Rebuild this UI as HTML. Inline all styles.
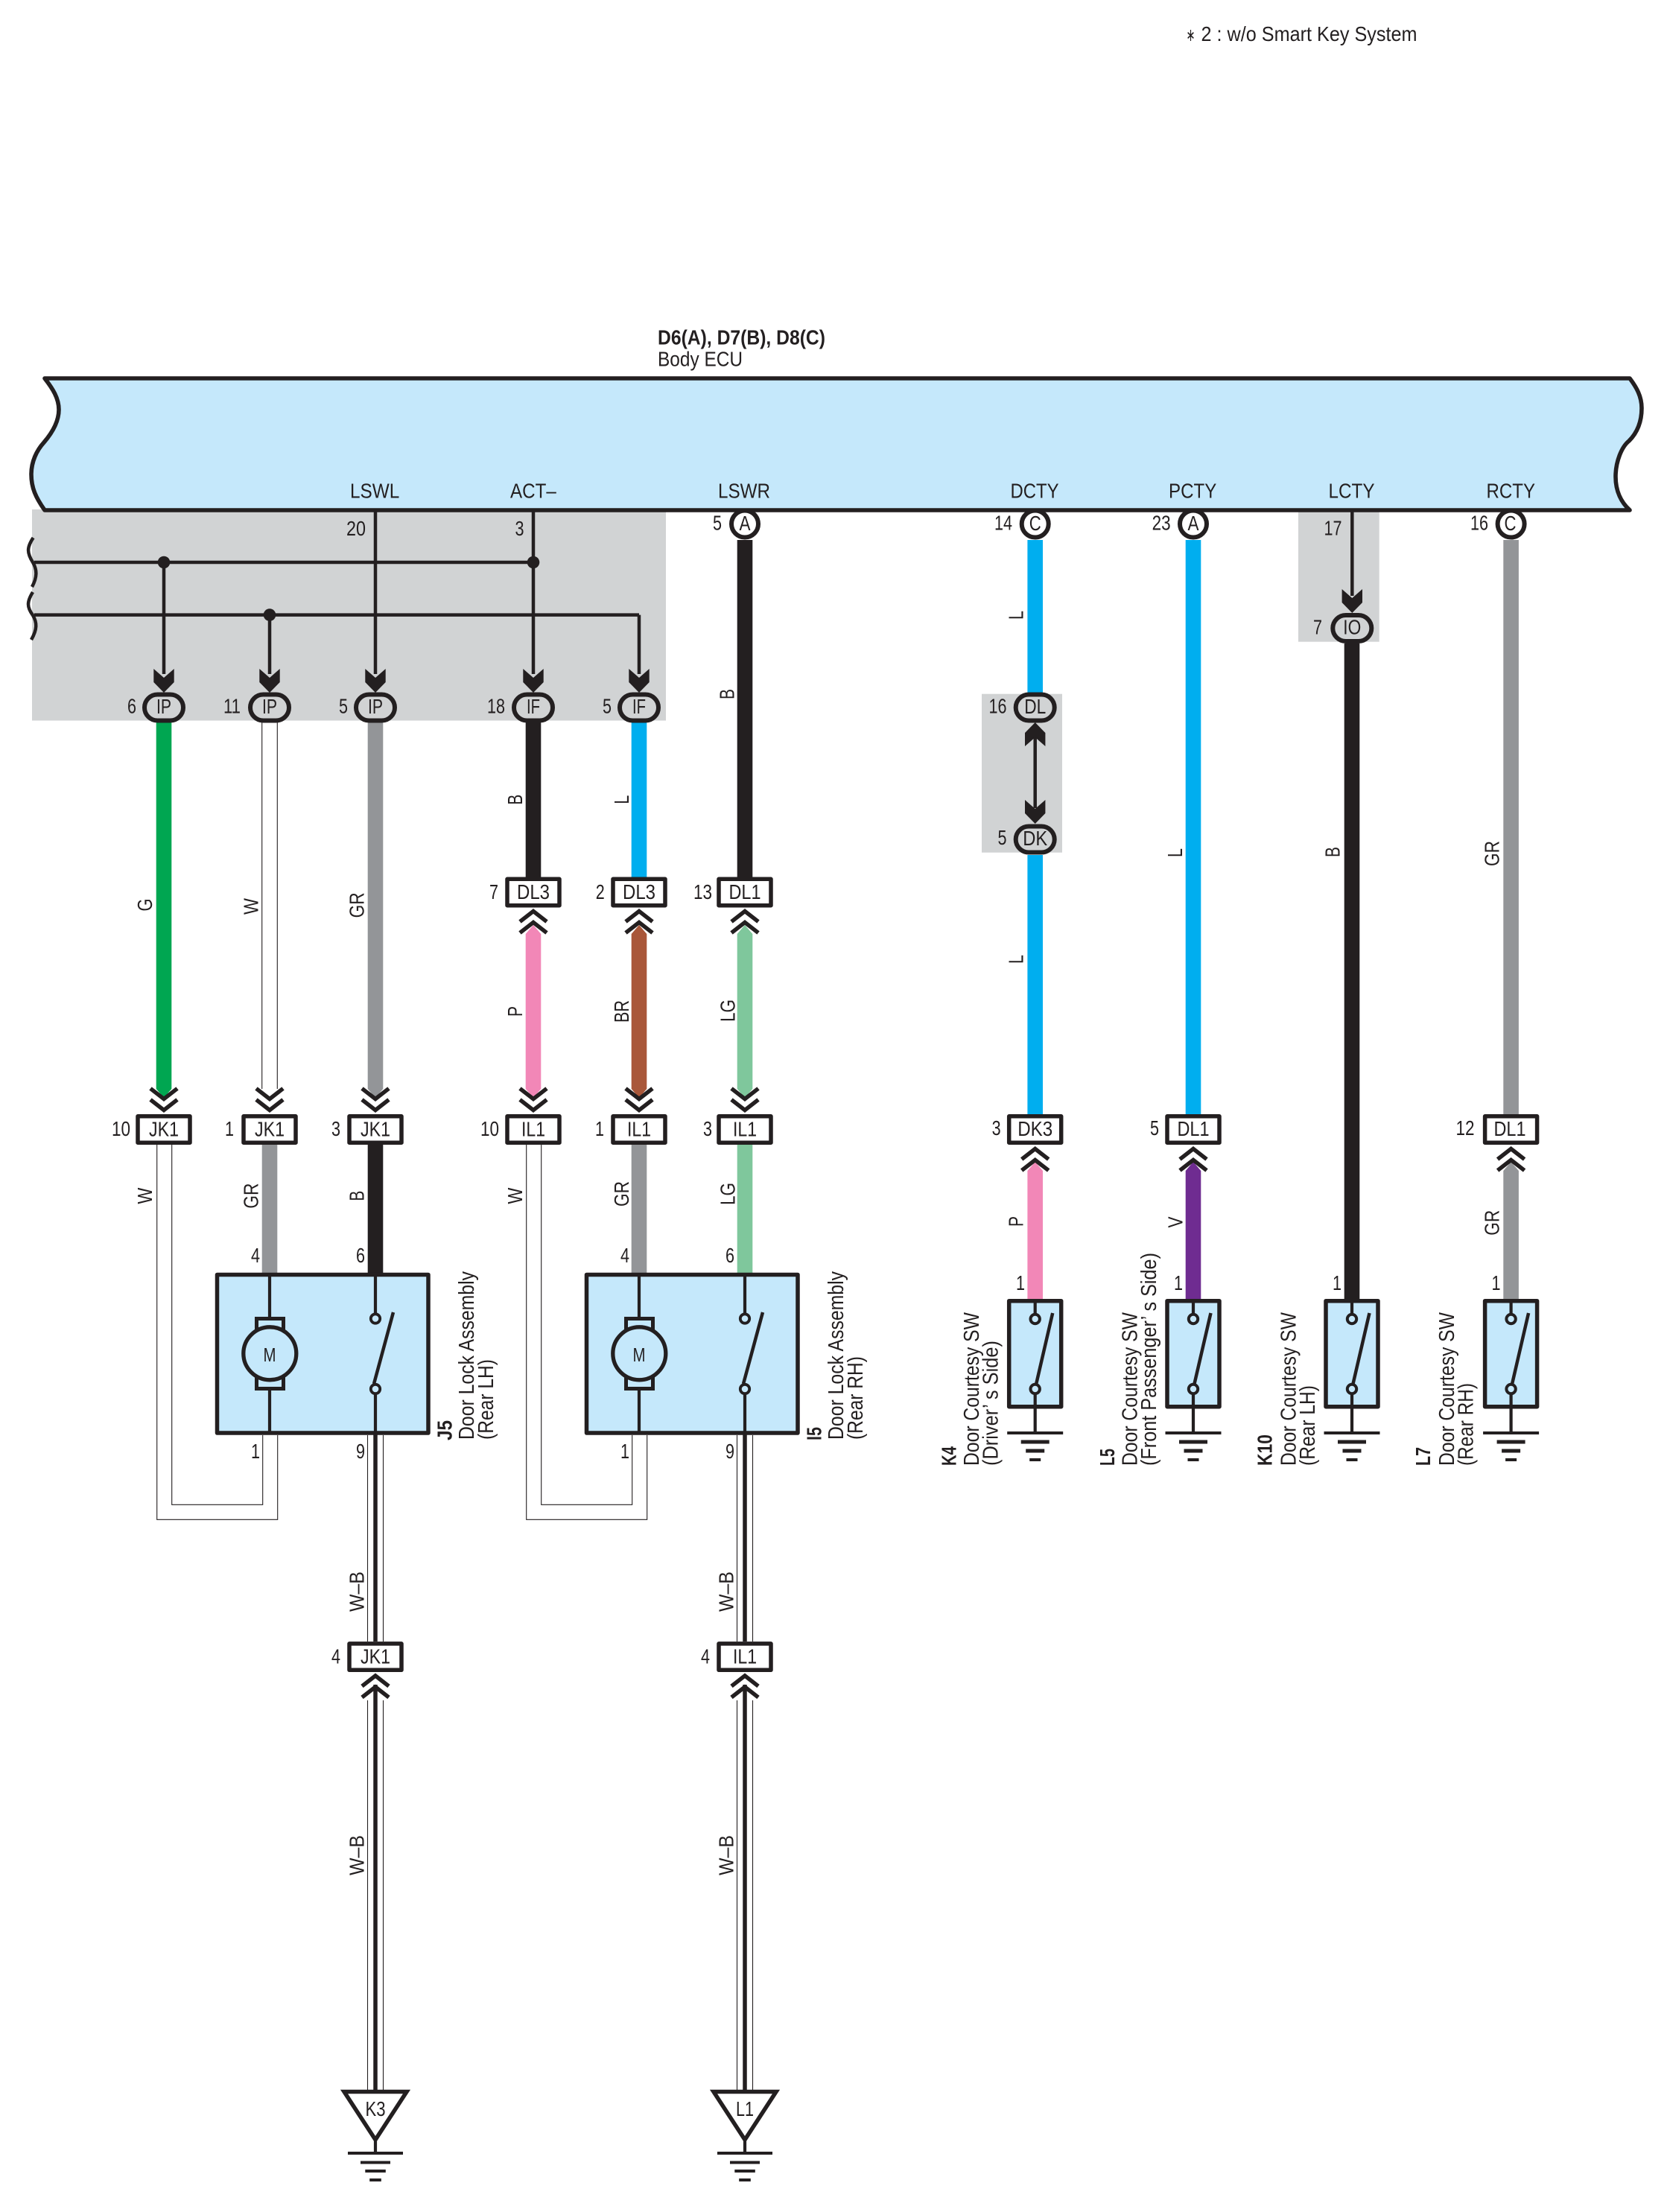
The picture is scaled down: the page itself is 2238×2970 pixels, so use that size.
<!DOCTYPE html>
<html lang="en">
<head>
<meta charset="utf-8">
<title>Door Lock Wiring Diagram</title>
<style>
html,body{margin:0;padding:0;background:#fff}
svg{display:block}
text{font-family:"Liberation Sans",Arial,sans-serif;font-size:27.5px;fill:#231f20}
.b{font-weight:bold;font-size:28px}
.m{text-anchor:middle}
.e{text-anchor:end}
.lbl{font-size:29px}
</style>
</head>
<body>
<svg xmlns="http://www.w3.org/2000/svg" width="2238" height="2970" viewBox="0 0 2238 2970">
<defs>
  <g id="cu"><path d="M-18,14L0,0L18,14M-18,29L0,15L18,29" fill="none" stroke="#231f20" stroke-width="5.5"/></g>
  <g id="cd"><path d="M-18,-14L0,0L18,-14M-18,-29L0,-15L18,-29" fill="none" stroke="#231f20" stroke-width="5.5"/></g>
  <rect id="bx" x="-35" y="-17.7" width="70" height="35.4" fill="#fff" stroke="#231f20" stroke-width="5.5" stroke-linejoin="round"/>
  <rect id="pl" x="-26" y="-17.5" width="52" height="35" rx="17.5" ry="17.5" fill="#d1d3d4" stroke="#231f20" stroke-width="6"/>
  <circle id="ci" r="18" fill="#fff" stroke="#231f20" stroke-width="6"/>
  <polygon id="ar" points="0,0 -13.7,-14 -13.7,-32 0,-20 13.7,-32 13.7,-14" fill="#231f20"/>
  <g id="as">
    <rect x="291.5" y="1711.5" width="283.5" height="212.5" fill="#c5e8fb" stroke="#231f20" stroke-width="5.5" stroke-linejoin="round"/>
    <path d="M362,1711V1770M362,1866V1924M504,1711V1764M504,1871V1924" stroke="#231f20" stroke-width="4.2" fill="none"/>
    <rect x="344.5" y="1770.5" width="36" height="17" fill="#c5e8fb" stroke="#231f20" stroke-width="5"/>
    <rect x="344.5" y="1847.5" width="36" height="17" fill="#c5e8fb" stroke="#231f20" stroke-width="5"/>
    <circle cx="362.3" cy="1817.3" r="35.5" fill="#c5e8fb" stroke="#231f20" stroke-width="5.3"/>
    <path d="M502,1858L528,1762" stroke="#231f20" stroke-width="4.5" fill="none"/>
    <circle cx="504" cy="1770.5" r="6.2" fill="#c5e8fb" stroke="#231f20" stroke-width="3.8"/>
    <circle cx="504" cy="1865" r="6.2" fill="#c5e8fb" stroke="#231f20" stroke-width="3.8"/>
    <path d="M210.7,1537V2040.3H372.7V1927M230.7,1537V2020.3H352.7V1927" fill="none" stroke="#231f20" stroke-width="1.1"/>
    <path d="M493.5,1927V2204M514.5,1927V2204" fill="none" stroke="#231f20" stroke-width="1.1"/>
    <path d="M504,1924V2204" fill="none" stroke="#231f20" stroke-width="5.5"/>
  </g>
  <g id="sw">
    <rect x="-35" y="1746.7" width="70" height="142" fill="#c5e8fb" stroke="#231f20" stroke-width="5.5" stroke-linejoin="round"/>
    <path d="M0,1746V1764M0,1872V1924" stroke="#231f20" stroke-width="4.2" fill="none"/>
    <path d="M1.5,1858L23.5,1763" stroke="#231f20" stroke-width="4.5" fill="none"/>
    <circle cx="0" cy="1771" r="6.2" fill="#c5e8fb" stroke="#231f20" stroke-width="4"/>
    <circle cx="0" cy="1865" r="6.2" fill="#c5e8fb" stroke="#231f20" stroke-width="4"/>
    <rect x="-37.5" y="1922" width="75" height="4" fill="#231f20"/>
    <rect x="-19" y="1933.5" width="38" height="5" fill="#231f20"/>
    <rect x="-12.5" y="1945.5" width="25" height="5" fill="#231f20"/>
    <rect x="-7.5" y="1958" width="15" height="4" fill="#231f20"/>
  </g>
  <g id="gd">
    <path d="M-42,2808.5H42L0,2873Z" fill="#fff" stroke="#231f20" stroke-width="5.5" stroke-linejoin="miter"/>
    <path d="M0,2875V2891" stroke="#231f20" stroke-width="4.2"/>
    <rect x="-37" y="2889" width="74" height="4" fill="#231f20"/>
    <rect x="-20" y="2901.5" width="40" height="4" fill="#231f20"/>
    <rect x="-13.7" y="2913" width="27.5" height="4" fill="#231f20"/>
    <rect x="-7.8" y="2925" width="15.6" height="4" fill="#231f20"/>
  </g>
  <g id="wb">
    <path d="M-10.5,2283V2806M10.5,2283V2806" stroke="#231f20" stroke-width="1.1" fill="none"/>
    <path d="M0,2262V2806" stroke="#231f20" stroke-width="5.5" fill="none"/>
  </g>
</defs>

<rect width="2238" height="2970" fill="#fff"/>

<!-- shaded areas -->
<rect x="43" y="684" width="851" height="283.5" fill="#d1d3d4"/>
<rect x="1318" y="931.7" width="108" height="213" fill="#d1d3d4"/>
<rect x="1743" y="684" width="108.7" height="177.7" fill="#d1d3d4"/>

<!-- circles under the ECU edge -->
<use href="#ci" x="1000" y="703.5"/>
<use href="#ci" x="1389.7" y="703.5"/>
<use href="#ci" x="1602" y="703.5"/>
<use href="#ci" x="2028.6" y="703.5"/>

<!-- ECU -->
<path d="M60,508L2188,508C2197,520 2204,532 2204,548C2204,570 2195,584 2187,592C2177,600 2169,620 2169,640C2169,660 2177,675 2188,685L60,685C48,668 42,655 42,637C42,620 49,605 59,594C71,580 79,565 79,550C79,535 71,522 60,508Z" fill="#c5e8fb" stroke="#231f20" stroke-width="5.6" stroke-linejoin="round"/>

<!-- thin lines inside shaded area -->
<g fill="none" stroke="#231f20" stroke-width="4.5">
  <path d="M46,755H716M46,825.6H858"/>
  <path d="M220,755V905M362,825.6V905M504,687V905M716,687V905M858,825.6V905"/>
  <path d="M1815.3,687V800"/>
  <path d="M1389.7,990V1085"/>
  <path d="M44.6,722C36,735 36,742 44,755C50,765 50,775 43,788"/>
  <path d="M44,795C36,808 36,815 44,826C50,836 50,845 42,859"/>
</g>
<circle cx="220" cy="755" r="8.3" fill="#231f20"/>
<circle cx="716" cy="755" r="8.3" fill="#231f20"/>
<circle cx="362" cy="825.6" r="8.3" fill="#231f20"/>

<!-- upper solid wires -->
<path d="M209.7,968V1462L220,1474L230.3,1462V968Z" fill="#00a651"/>
<path d="M351.7,968V1462M372.3,968V1462" stroke="#231f20" stroke-width="1.1" fill="none"/>
<path d="M493.7,968V1462L504,1474L514.3,1462V968Z" fill="#939598"/>
<rect x="705.7" y="968" width="20.6" height="210" fill="#231f20"/>
<rect x="847.7" y="968" width="20.6" height="210" fill="#00aeef"/>
<rect x="989.7" y="725" width="20.6" height="453" fill="#231f20"/>
<path d="M705.7,1254L716,1242L726.3,1254V1462L716,1474L705.7,1462Z" fill="#f287b7"/>
<path d="M847.7,1254L858,1242L868.3,1254V1462L858,1474L847.7,1462Z" fill="#a9573a"/>
<path d="M989.7,1254L1000,1242L1010.3,1254V1462L1000,1474L989.7,1462Z" fill="#7fc79c"/>

<!-- lower solid wires -->
<rect x="351.7" y="1537" width="20.6" height="172" fill="#939598"/>
<rect x="493.7" y="1537" width="20.6" height="172" fill="#231f20"/>
<rect x="847.7" y="1537" width="20.6" height="172" fill="#939598"/>
<rect x="989.7" y="1537" width="20.6" height="172" fill="#7fc79c"/>

<!-- assemblies -->
<use href="#as"/>
<use href="#as" x="496"/>

<!-- right side wires -->
<rect x="1379.4" y="725" width="20.6" height="206" fill="#00aeef"/>
<rect x="1379.4" y="1148" width="20.6" height="348" fill="#00aeef"/>
<rect x="1591.7" y="725" width="20.6" height="771" fill="#00aeef"/>
<rect x="1804.7" y="864" width="20.6" height="880" fill="#231f20"/>
<rect x="2018.3" y="725" width="20.6" height="771" fill="#939598"/>
<path d="M1379.4,1572L1389.7,1560L1400,1572V1744H1379.4Z" fill="#f287b7"/>
<path d="M1591.7,1572L1602,1560L1612.3,1572V1744H1591.7Z" fill="#6f2c91"/>
<path d="M2018.3,1572L2028.6,1560L2038.9,1572V1744H2018.3Z" fill="#939598"/>

<!-- switches -->
<use href="#sw" x="1389.7"/>
<use href="#sw" x="1602"/>
<use href="#sw" x="1815"/>
<use href="#sw" x="2028.6"/>

<!-- W-B to ground -->
<use href="#wb" x="504"/>
<use href="#wb" x="1000"/>
<use href="#gd" x="504"/>
<use href="#gd" x="1000"/>

<!-- solid arrows -->
<use href="#ar" x="220" y="930"/>
<use href="#ar" x="362" y="930"/>
<use href="#ar" x="504" y="930"/>
<use href="#ar" x="716" y="930"/>
<use href="#ar" x="858" y="930"/>
<use href="#ar" x="1815.3" y="823"/>
<use href="#ar" x="1389.7" y="1106"/>
<use href="#ar" transform="translate(1389.7,970) scale(1,-1)"/>

<!-- pills -->
<use href="#pl" x="220" y="950"/>
<use href="#pl" x="362" y="950"/>
<use href="#pl" x="504" y="950"/>
<use href="#pl" x="716" y="950"/>
<use href="#pl" x="858" y="950"/>
<use href="#pl" x="1389.7" y="950"/>
<use href="#pl" x="1389.7" y="1127"/>
<use href="#pl" x="1815.3" y="843.5"/>

<!-- chevrons -->
<use href="#cd" x="220" y="1490.5"/>
<use href="#cd" x="362" y="1490.5"/>
<use href="#cd" x="504" y="1490.5"/>
<use href="#cd" x="716" y="1490.5"/>
<use href="#cd" x="858" y="1490.5"/>
<use href="#cd" x="1000" y="1490.5"/>
<use href="#cu" x="716" y="1223.5"/>
<use href="#cu" x="858" y="1223.5"/>
<use href="#cu" x="1000" y="1223.5"/>
<use href="#cu" x="1389.7" y="1542.5"/>
<use href="#cu" x="1602" y="1542.5"/>
<use href="#cu" x="2028.6" y="1542.5"/>
<use href="#cu" x="504" y="2250"/>
<use href="#cu" x="1000" y="2250"/>

<!-- connector boxes -->
<use href="#bx" x="716" y="1198"/>
<use href="#bx" x="858" y="1198"/>
<use href="#bx" x="1000" y="1198"/>
<use href="#bx" x="220" y="1516.5"/>
<use href="#bx" x="362" y="1516.5"/>
<use href="#bx" x="504" y="1516.5"/>
<use href="#bx" x="716" y="1516.5"/>
<use href="#bx" x="858" y="1516.5"/>
<use href="#bx" x="1000" y="1516.5"/>
<use href="#bx" x="1389.7" y="1516.5"/>
<use href="#bx" x="1602" y="1516.5"/>
<use href="#bx" x="2028.6" y="1516.5"/>
<use href="#bx" x="504" y="2224.6"/>
<use href="#bx" x="1000" y="2224.6"/>

<!-- titles -->
<text x="1612.5" y="55" textLength="290" lengthAdjust="spacingAndGlyphs">2 : w/o Smart Key System</text>
<text x="1592.5" y="55" textLength="12" lengthAdjust="spacingAndGlyphs" style="font-size:24px">∗</text>
<text class="b" x="883" y="462.7" textLength="225" lengthAdjust="spacingAndGlyphs">D6(A), D7(B), D8(C)</text>
<text x="883" y="491.7" textLength="114" lengthAdjust="spacingAndGlyphs">Body ECU</text>

<!-- ECU terminal labels -->
<text x="470" y="668.5" textLength="66.3" lengthAdjust="spacingAndGlyphs">LSWL</text>
<text x="685" y="668.5" textLength="61.8" lengthAdjust="spacingAndGlyphs">ACT–</text>
<text x="964" y="668.5" textLength="70" lengthAdjust="spacingAndGlyphs">LSWR</text>
<text x="1356.5" y="668.5" textLength="65" lengthAdjust="spacingAndGlyphs">DCTY</text>
<text x="1569" y="668.5" textLength="64.3" lengthAdjust="spacingAndGlyphs">PCTY</text>
<text x="1783.5" y="668.5" textLength="62" lengthAdjust="spacingAndGlyphs">LCTY</text>
<text x="1995.5" y="668.5" textLength="65.5" lengthAdjust="spacingAndGlyphs">RCTY</text>

<!-- terminal numbers -->
<text class="e" x="491" y="719" textLength="26" lengthAdjust="spacingAndGlyphs">20</text>
<text class="e" x="703.5" y="719" textLength="12" lengthAdjust="spacingAndGlyphs">3</text>
<text class="e" x="969" y="711.7" textLength="12" lengthAdjust="spacingAndGlyphs">5</text>
<text class="e" x="1359" y="711.7" textLength="24" lengthAdjust="spacingAndGlyphs">14</text>
<text class="e" x="1571.6" y="711.7" textLength="25" lengthAdjust="spacingAndGlyphs">23</text>
<text class="e" x="1801.5" y="718.5" textLength="24" lengthAdjust="spacingAndGlyphs">17</text>
<text class="e" x="1998" y="711.7" textLength="24" lengthAdjust="spacingAndGlyphs">16</text>
<text class="e" x="183" y="957.5" textLength="12" lengthAdjust="spacingAndGlyphs">6</text>
<text class="e" x="323" y="957.5" textLength="23" lengthAdjust="spacingAndGlyphs">11</text>
<text class="e" x="467" y="957.5" textLength="12" lengthAdjust="spacingAndGlyphs">5</text>
<text class="e" x="678" y="957.5" textLength="24" lengthAdjust="spacingAndGlyphs">18</text>
<text class="e" x="821" y="957.5" textLength="12" lengthAdjust="spacingAndGlyphs">5</text>
<text class="e" x="1351.5" y="957.5" textLength="24" lengthAdjust="spacingAndGlyphs">16</text>
<text class="e" x="1351.5" y="1134" textLength="12" lengthAdjust="spacingAndGlyphs">5</text>
<text class="e" x="1775" y="851.7" textLength="12" lengthAdjust="spacingAndGlyphs">7</text>
<text class="e" x="669" y="1207" textLength="12" lengthAdjust="spacingAndGlyphs">7</text>
<text class="e" x="811.7" y="1207" textLength="12" lengthAdjust="spacingAndGlyphs">2</text>
<text class="e" x="956" y="1207" textLength="25" lengthAdjust="spacingAndGlyphs">13</text>
<text class="e" x="175" y="1525" textLength="25" lengthAdjust="spacingAndGlyphs">10</text>
<text class="e" x="314" y="1525" textLength="12" lengthAdjust="spacingAndGlyphs">1</text>
<text class="e" x="457" y="1525" textLength="12" lengthAdjust="spacingAndGlyphs">3</text>
<text class="e" x="670" y="1525" textLength="25" lengthAdjust="spacingAndGlyphs">10</text>
<text class="e" x="811" y="1525" textLength="12" lengthAdjust="spacingAndGlyphs">1</text>
<text class="e" x="956" y="1525" textLength="12" lengthAdjust="spacingAndGlyphs">3</text>
<text class="e" x="1343.6" y="1524" textLength="12" lengthAdjust="spacingAndGlyphs">3</text>
<text class="e" x="1556" y="1524" textLength="12" lengthAdjust="spacingAndGlyphs">5</text>
<text class="e" x="1979.5" y="1524" textLength="25" lengthAdjust="spacingAndGlyphs">12</text>
<text class="e" x="349" y="1695" textLength="12" lengthAdjust="spacingAndGlyphs">4</text>
<text class="e" x="490" y="1695" textLength="12" lengthAdjust="spacingAndGlyphs">6</text>
<text class="e" x="845" y="1695" textLength="12" lengthAdjust="spacingAndGlyphs">4</text>
<text class="e" x="986" y="1695" textLength="12" lengthAdjust="spacingAndGlyphs">6</text>
<text class="e" x="349" y="1958" textLength="12" lengthAdjust="spacingAndGlyphs">1</text>
<text class="e" x="490" y="1958" textLength="12" lengthAdjust="spacingAndGlyphs">9</text>
<text class="e" x="845" y="1958" textLength="12" lengthAdjust="spacingAndGlyphs">1</text>
<text class="e" x="986" y="1958" textLength="12" lengthAdjust="spacingAndGlyphs">9</text>
<text class="e" x="1376" y="1732" textLength="12" lengthAdjust="spacingAndGlyphs">1</text>
<text class="e" x="1588" y="1732" textLength="12" lengthAdjust="spacingAndGlyphs">1</text>
<text class="e" x="1801" y="1732" textLength="12" lengthAdjust="spacingAndGlyphs">1</text>
<text class="e" x="2014.5" y="1732" textLength="12" lengthAdjust="spacingAndGlyphs">1</text>
<text class="e" x="457" y="2233.6" textLength="12" lengthAdjust="spacingAndGlyphs">4</text>
<text class="e" x="953" y="2233.6" textLength="12" lengthAdjust="spacingAndGlyphs">4</text>

<!-- pill and circle labels -->
<text class="m" x="220" y="958" textLength="20" lengthAdjust="spacingAndGlyphs">IP</text>
<text class="m" x="362" y="958" textLength="20" lengthAdjust="spacingAndGlyphs">IP</text>
<text class="m" x="504" y="958" textLength="20" lengthAdjust="spacingAndGlyphs">IP</text>
<text class="m" x="716" y="958" textLength="18" lengthAdjust="spacingAndGlyphs">IF</text>
<text class="m" x="858" y="958" textLength="18" lengthAdjust="spacingAndGlyphs">IF</text>
<text class="m" x="1389.7" y="958" textLength="29" lengthAdjust="spacingAndGlyphs">DL</text>
<text class="m" x="1389.7" y="1135" textLength="33" lengthAdjust="spacingAndGlyphs">DK</text>
<text class="m" x="1815.3" y="851.7" textLength="24" lengthAdjust="spacingAndGlyphs">IO</text>
<text class="m" x="1000" y="712" textLength="15" lengthAdjust="spacingAndGlyphs">A</text>
<text class="m" x="1389.7" y="712" textLength="16" lengthAdjust="spacingAndGlyphs">C</text>
<text class="m" x="1602" y="712" textLength="15" lengthAdjust="spacingAndGlyphs">A</text>
<text class="m" x="2027.5" y="712" textLength="16" lengthAdjust="spacingAndGlyphs">C</text>

<!-- connector labels -->
<text class="m" x="716" y="1207" textLength="44" lengthAdjust="spacingAndGlyphs">DL3</text>
<text class="m" x="858" y="1207" textLength="44" lengthAdjust="spacingAndGlyphs">DL3</text>
<text class="m" x="1000" y="1207" textLength="43" lengthAdjust="spacingAndGlyphs">DL1</text>
<text class="m" x="220" y="1525.5" textLength="40" lengthAdjust="spacingAndGlyphs">JK1</text>
<text class="m" x="362" y="1525.5" textLength="40" lengthAdjust="spacingAndGlyphs">JK1</text>
<text class="m" x="504" y="1525.5" textLength="40" lengthAdjust="spacingAndGlyphs">JK1</text>
<text class="m" x="716" y="1525.5" textLength="32" lengthAdjust="spacingAndGlyphs">IL1</text>
<text class="m" x="858" y="1525.5" textLength="32" lengthAdjust="spacingAndGlyphs">IL1</text>
<text class="m" x="1000" y="1525.5" textLength="32" lengthAdjust="spacingAndGlyphs">IL1</text>
<text class="m" x="1389.7" y="1525" textLength="47" lengthAdjust="spacingAndGlyphs">DK3</text>
<text class="m" x="1602" y="1525" textLength="43" lengthAdjust="spacingAndGlyphs">DL1</text>
<text class="m" x="2027" y="1525" textLength="43" lengthAdjust="spacingAndGlyphs">DL1</text>
<text class="m" x="504" y="2233.6" textLength="40" lengthAdjust="spacingAndGlyphs">JK1</text>
<text class="m" x="1000" y="2233.6" textLength="32" lengthAdjust="spacingAndGlyphs">IL1</text>
<text class="m" x="504" y="2841" textLength="27" lengthAdjust="spacingAndGlyphs">K3</text>
<text class="m" x="1000" y="2841" textLength="24" lengthAdjust="spacingAndGlyphs">L1</text>
<text class="m" x="362" y="1828" style="font-size:26px" textLength="17" lengthAdjust="spacingAndGlyphs">M</text>
<text class="m" x="858" y="1828" style="font-size:26px" textLength="17" lengthAdjust="spacingAndGlyphs">M</text>

<!-- wire colour labels (rotated) -->
<text class="m" transform="translate(204,1215) rotate(-90)" textLength="17" lengthAdjust="spacingAndGlyphs">G</text>
<text class="m" transform="translate(204,1605.6) rotate(-90)" textLength="22" lengthAdjust="spacingAndGlyphs">W</text>
<text class="m" transform="translate(346.4,1217) rotate(-90)" textLength="22" lengthAdjust="spacingAndGlyphs">W</text>
<text class="m" transform="translate(346.4,1605.6) rotate(-90)" textLength="34" lengthAdjust="spacingAndGlyphs">GR</text>
<text class="m" transform="translate(488.4,1215.4) rotate(-90)" textLength="34" lengthAdjust="spacingAndGlyphs">GR</text>
<text class="m" transform="translate(488.4,1605.6) rotate(-90)" textLength="14" lengthAdjust="spacingAndGlyphs">B</text>
<text class="m" transform="translate(701,1073.6) rotate(-90)" textLength="14" lengthAdjust="spacingAndGlyphs">B</text>
<text class="m" transform="translate(701,1358) rotate(-90)" textLength="14" lengthAdjust="spacingAndGlyphs">P</text>
<text class="m" transform="translate(701,1605.6) rotate(-90)" textLength="22" lengthAdjust="spacingAndGlyphs">W</text>
<text class="m" transform="translate(844,1073.6) rotate(-90)" textLength="12" lengthAdjust="spacingAndGlyphs">L</text>
<text class="m" transform="translate(844,1358) rotate(-90)" textLength="30" lengthAdjust="spacingAndGlyphs">BR</text>
<text class="m" transform="translate(844,1603) rotate(-90)" textLength="34" lengthAdjust="spacingAndGlyphs">GR</text>
<text class="m" transform="translate(985.5,932) rotate(-90)" textLength="14" lengthAdjust="spacingAndGlyphs">B</text>
<text class="m" transform="translate(986.5,1357) rotate(-90)" textLength="30" lengthAdjust="spacingAndGlyphs">LG</text>
<text class="m" transform="translate(986.5,1603) rotate(-90)" textLength="30" lengthAdjust="spacingAndGlyphs">LG</text>
<text class="m" transform="translate(488.4,2137) rotate(-90)" textLength="54" lengthAdjust="spacingAndGlyphs">W–B</text>
<text class="m" transform="translate(488.4,2491) rotate(-90)" textLength="54" lengthAdjust="spacingAndGlyphs">W–B</text>
<text class="m" transform="translate(984.5,2137) rotate(-90)" textLength="54" lengthAdjust="spacingAndGlyphs">W–B</text>
<text class="m" transform="translate(984.5,2491) rotate(-90)" textLength="54" lengthAdjust="spacingAndGlyphs">W–B</text>
<text class="m" transform="translate(1373.5,826) rotate(-90)" textLength="12" lengthAdjust="spacingAndGlyphs">L</text>
<text class="m" transform="translate(1373.5,1288) rotate(-90)" textLength="12" lengthAdjust="spacingAndGlyphs">L</text>
<text class="m" transform="translate(1373.5,1640) rotate(-90)" textLength="14" lengthAdjust="spacingAndGlyphs">P</text>
<text class="m" transform="translate(1587,1145) rotate(-90)" textLength="12" lengthAdjust="spacingAndGlyphs">L</text>
<text class="m" transform="translate(1587.5,1641) rotate(-90)" textLength="15" lengthAdjust="spacingAndGlyphs">V</text>
<text class="m" transform="translate(1798.5,1144) rotate(-90)" textLength="14" lengthAdjust="spacingAndGlyphs">B</text>
<text class="m" transform="translate(2012.5,1146) rotate(-90)" textLength="34" lengthAdjust="spacingAndGlyphs">GR</text>
<text class="m" transform="translate(2012.5,1641.7) rotate(-90)" textLength="34" lengthAdjust="spacingAndGlyphs">GR</text>

<!-- component labels (rotated) -->
<text class="b" transform="translate(606.7,1934) rotate(-90)" textLength="27" lengthAdjust="spacingAndGlyphs">J5</text>
<text class="lbl" transform="translate(636,1933) rotate(-90)" textLength="226" lengthAdjust="spacingAndGlyphs">Door Lock Assembly</text>
<text class="lbl" transform="translate(662,1933) rotate(-90)" textLength="108" lengthAdjust="spacingAndGlyphs">(Rear LH)</text>
<text class="b" transform="translate(1102.7,1934) rotate(-90)" textLength="18" lengthAdjust="spacingAndGlyphs">I5</text>
<text class="lbl" transform="translate(1132,1933) rotate(-90)" textLength="226" lengthAdjust="spacingAndGlyphs">Door Lock Assembly</text>
<text class="lbl" transform="translate(1158,1933) rotate(-90)" textLength="112" lengthAdjust="spacingAndGlyphs">(Rear RH)</text>

<text class="b" transform="translate(1283.4,1968) rotate(-90)" textLength="26" lengthAdjust="spacingAndGlyphs">K4</text>
<text class="lbl" transform="translate(1314,1968) rotate(-90)" textLength="206" lengthAdjust="spacingAndGlyphs">Door Courtesy SW</text>
<text class="lbl" transform="translate(1339.5,1968) rotate(-90)" textLength="168" lengthAdjust="spacingAndGlyphs">(Driver’ s Side)</text>

<text class="b" transform="translate(1496,1968) rotate(-90)" textLength="23" lengthAdjust="spacingAndGlyphs">L5</text>
<text class="lbl" transform="translate(1526.7,1968) rotate(-90)" textLength="206" lengthAdjust="spacingAndGlyphs">Door Courtesy SW</text>
<text class="lbl" transform="translate(1552,1968) rotate(-90)" textLength="286" lengthAdjust="spacingAndGlyphs">(Front Passenger’ s Side)</text>

<text class="b" transform="translate(1707.5,1968) rotate(-90)" textLength="42" lengthAdjust="spacingAndGlyphs">K10</text>
<text class="lbl" transform="translate(1739.4,1968) rotate(-90)" textLength="206" lengthAdjust="spacingAndGlyphs">Door Courtesy SW</text>
<text class="lbl" transform="translate(1765,1968) rotate(-90)" textLength="108" lengthAdjust="spacingAndGlyphs">(Rear LH)</text>

<text class="b" transform="translate(1920,1968) rotate(-90)" textLength="25" lengthAdjust="spacingAndGlyphs">L7</text>
<text class="lbl" transform="translate(1952,1968) rotate(-90)" textLength="206" lengthAdjust="spacingAndGlyphs">Door Courtesy SW</text>
<text class="lbl" transform="translate(1977.7,1968) rotate(-90)" textLength="111" lengthAdjust="spacingAndGlyphs">(Rear RH)</text>
</svg>
</body>
</html>
